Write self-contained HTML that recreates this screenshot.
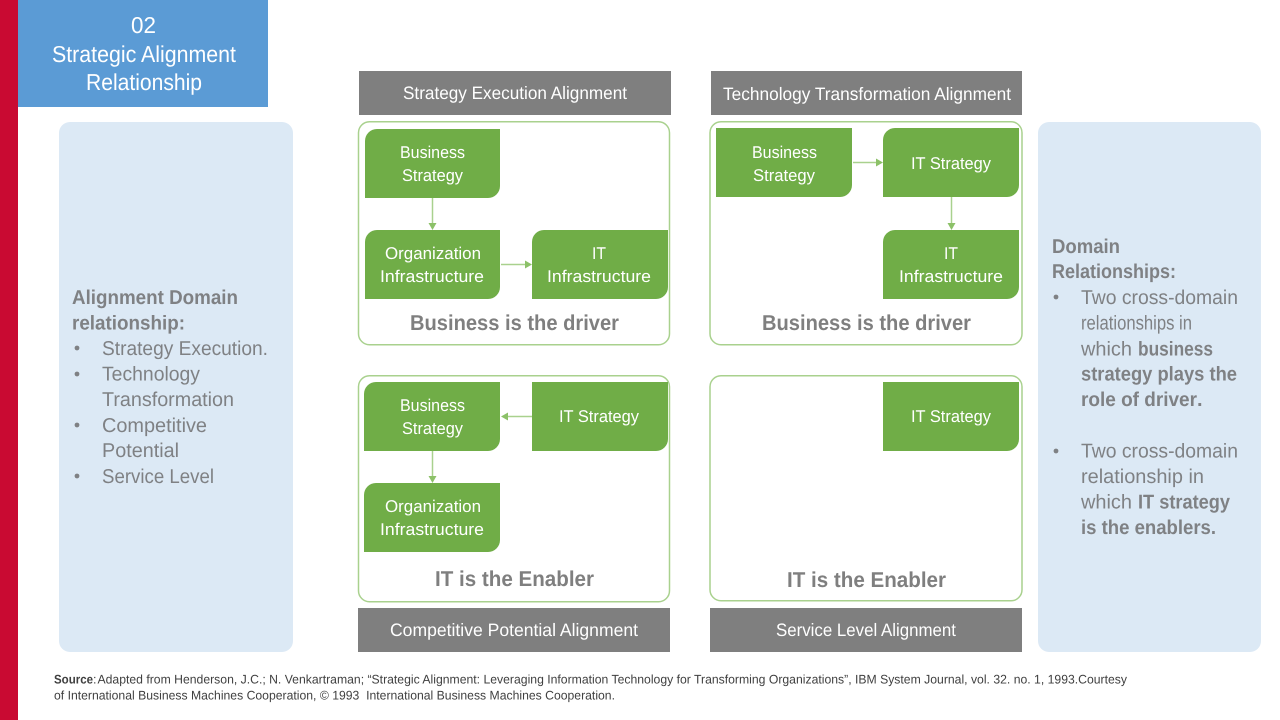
<!DOCTYPE html>
<html><head><meta charset="utf-8"><title>Strategic Alignment Relationship</title>
<style>
html,body{margin:0;padding:0;background:#fff;width:1280px;height:720px;overflow:hidden}
svg{display:block}
text{font-family:"Liberation Sans",sans-serif}
.w{fill:#fff}
.n{fill:#fff;font-size:17px}
.h{fill:#fff;font-size:18px}
.g{fill:#7f8184;font-size:20px}
.b{font-weight:bold}
.d{fill:#7f7f7f;font-size:21.5px;font-weight:bold}
.f{fill:#404040;font-size:12.5px;white-space:pre}
.node{fill:#70ad47}
.panel{fill:#fff;stroke:#a9d18e;stroke-width:1.5}
.side{fill:#dce9f5}
.hd{fill:#7f7f7f}
.c{stroke:#a9d18e;stroke-width:1.5;fill:none}
.a{fill:#8cc168}
.dot{fill:#7f8184}
</style></head><body>
<svg xmlns="http://www.w3.org/2000/svg" width="1280" height="720" viewBox="0 0 1280 720" text-rendering="geometricPrecision">
<rect width="1280" height="720" fill="#fff"/>
<rect x="0" y="0" width="18" height="720" fill="#c90a32"/>
<rect x="18" y="0" width="250" height="107" fill="#5b9bd5"/>
<g class="w" font-size="23">
<text x="131" y="33" textLength="25" lengthAdjust="spacingAndGlyphs" class="w">02</text>
<text x="52" y="62" textLength="184" lengthAdjust="spacingAndGlyphs" class="w">Strategic Alignment</text>
<text x="86" y="90" textLength="116" lengthAdjust="spacingAndGlyphs" class="w">Relationship</text>
</g>

<rect class="side" x="59" y="122" width="234" height="530" rx="11"/>
<rect class="side" x="1038" y="122" width="223" height="530" rx="11"/>

<rect class="hd" x="359" y="71" width="312" height="44"/>
<rect class="hd" x="711" y="71" width="311" height="44"/>
<rect class="hd" x="358" y="608" width="312" height="44"/>
<rect class="hd" x="710" y="608" width="312" height="44"/>
<text class="h" x="403" y="99" textLength="224" lengthAdjust="spacingAndGlyphs">Strategy Execution Alignment</text>
<text class="h" x="723" y="100" textLength="288" lengthAdjust="spacingAndGlyphs">Technology Transformation Alignment</text>
<text class="h" x="390" y="636" textLength="248" lengthAdjust="spacingAndGlyphs">Competitive Potential Alignment</text>
<text class="h" x="776" y="636" textLength="180" lengthAdjust="spacingAndGlyphs">Service Level Alignment</text>

<rect class="panel" x="358.5" y="121.75" width="311" height="223" rx="11"/>
<rect class="panel" x="710" y="121.75" width="312" height="223" rx="11"/>
<rect class="panel" x="358.5" y="375.75" width="311" height="226" rx="11"/>
<rect class="panel" x="710" y="375.75" width="312" height="225" rx="11"/>

<!-- panel 1 -->
<path class="node" d="M377 129H500V186A12 12 0 0 1 488 198H365V141A12 12 0 0 1 377 129Z"/>
<path class="node" d="M377 230H500V287A12 12 0 0 1 488 299H365V242A12 12 0 0 1 377 230Z"/>
<path class="node" d="M544 230H668V287A12 12 0 0 1 656 299H532V242A12 12 0 0 1 544 230Z"/>
<text class="n" x="400" y="158" textLength="65" lengthAdjust="spacingAndGlyphs">Business</text>
<text class="n" x="402" y="181" textLength="61" lengthAdjust="spacingAndGlyphs">Strategy</text>
<text class="n" x="385" y="259" textLength="96" lengthAdjust="spacingAndGlyphs">Organization</text>
<text class="n" x="380" y="282" textLength="104" lengthAdjust="spacingAndGlyphs">Infrastructure</text>
<text class="n" x="592" y="259" textLength="14" lengthAdjust="spacingAndGlyphs">IT</text>
<text class="n" x="547" y="282" textLength="104" lengthAdjust="spacingAndGlyphs">Infrastructure</text>
<path class="c" d="M432.5 198V224"/><path class="a" d="M428.5 223H436.5L432.5 230Z"/>
<path class="c" d="M501 264.5H526"/><path class="a" d="M525 260.5V268.5L532 264.5Z"/>
<text class="d" x="410" y="330" textLength="209" lengthAdjust="spacingAndGlyphs">Business is the driver</text>

<!-- panel 2 -->
<path class="node" d="M716 128H852V185A12 12 0 0 1 840 197H716Z"/>
<path class="node" d="M895 128H1019V185A12 12 0 0 1 1007 197H883V140A12 12 0 0 1 895 128Z"/>
<path class="node" d="M895 230H1019V287A12 12 0 0 1 1007 299H883V242A12 12 0 0 1 895 230Z"/>
<text class="n" x="752" y="158" textLength="65" lengthAdjust="spacingAndGlyphs">Business</text>
<text class="n" x="753" y="181" textLength="62" lengthAdjust="spacingAndGlyphs">Strategy</text>
<text class="n" x="911" y="169" textLength="80" lengthAdjust="spacingAndGlyphs">IT Strategy</text>
<text class="n" x="944" y="259" textLength="14" lengthAdjust="spacingAndGlyphs">IT</text>
<text class="n" x="899" y="282" textLength="104" lengthAdjust="spacingAndGlyphs">Infrastructure</text>
<path class="c" d="M853 162.5H877"/><path class="a" d="M876 158.5V166.5L883 162.5Z"/>
<path class="c" d="M951.5 197V224"/><path class="a" d="M947.5 223H955.5L951.5 230Z"/>
<text class="d" x="762" y="330" textLength="209" lengthAdjust="spacingAndGlyphs">Business is the driver</text>

<!-- panel 3 -->
<path class="node" d="M376 382H500V439A12 12 0 0 1 488 451H364V394A12 12 0 0 1 376 382Z"/>
<path class="node" d="M532 382H668V439A12 12 0 0 1 656 451H532Z"/>
<path class="node" d="M376 483H500V540A12 12 0 0 1 488 552H364V495A12 12 0 0 1 376 483Z"/>
<text class="n" x="400" y="411" textLength="65" lengthAdjust="spacingAndGlyphs">Business</text>
<text class="n" x="402" y="434" textLength="61" lengthAdjust="spacingAndGlyphs">Strategy</text>
<text class="n" x="559" y="422" textLength="80" lengthAdjust="spacingAndGlyphs">IT Strategy</text>
<text class="n" x="385" y="512" textLength="96" lengthAdjust="spacingAndGlyphs">Organization</text>
<text class="n" x="380" y="535" textLength="104" lengthAdjust="spacingAndGlyphs">Infrastructure</text>
<path class="c" d="M532 416.5H507"/><path class="a" d="M508 412.5V420.5L501 416.5Z"/>
<path class="c" d="M432.5 451V477"/><path class="a" d="M428.5 476H436.5L432.5 483Z"/>
<text class="d" x="435" y="586" textLength="159" lengthAdjust="spacingAndGlyphs">IT is the Enabler</text>

<!-- panel 4 -->
<path class="node" d="M883 382H1019V439A12 12 0 0 1 1007 451H883Z"/>
<text class="n" x="911" y="422" textLength="80" lengthAdjust="spacingAndGlyphs">IT Strategy</text>
<text class="d" x="787" y="587" textLength="159" lengthAdjust="spacingAndGlyphs">IT is the Enabler</text>

<!-- left text -->
<text class="g b" x="72" y="304" textLength="166" lengthAdjust="spacingAndGlyphs">Alignment Domain</text>
<text class="g b" x="72" y="329.5" textLength="113" lengthAdjust="spacingAndGlyphs">relationship:</text>
<circle class="dot" cx="77" cy="348" r="2.4"/>
<text class="g" x="102" y="355" textLength="166" lengthAdjust="spacingAndGlyphs">Strategy Execution.</text>
<circle class="dot" cx="77" cy="374" r="2.4"/>
<text class="g" x="102" y="380.5" textLength="98" lengthAdjust="spacingAndGlyphs">Technology</text>
<text class="g" x="102" y="406" textLength="132" lengthAdjust="spacingAndGlyphs">Transformation</text>
<circle class="dot" cx="77" cy="425" r="2.4"/>
<text class="g" x="102" y="432" textLength="105" lengthAdjust="spacingAndGlyphs">Competitive</text>
<text class="g" x="102" y="457" textLength="77" lengthAdjust="spacingAndGlyphs">Potential</text>
<circle class="dot" cx="77" cy="476" r="2.4"/>
<text class="g" x="102" y="483" textLength="112" lengthAdjust="spacingAndGlyphs">Service Level</text>

<!-- right text -->
<text class="g b" x="1052" y="253" textLength="68" lengthAdjust="spacingAndGlyphs">Domain</text>
<text class="g b" x="1052" y="278" textLength="124" lengthAdjust="spacingAndGlyphs">Relationships:</text>
<circle class="dot" cx="1056" cy="297" r="2.4"/>
<text class="g" x="1081" y="304" textLength="157" lengthAdjust="spacingAndGlyphs">Two cross-domain</text>
<text class="g" x="1081" y="329.5" textLength="111" lengthAdjust="spacingAndGlyphs">relationships in</text>
<text class="g" x="1081" y="355.5" textLength="51" lengthAdjust="spacingAndGlyphs">which</text>
<text class="g b" x="1138" y="355.5" textLength="75" lengthAdjust="spacingAndGlyphs">business</text>
<text class="g b" x="1081" y="380.5" textLength="156" lengthAdjust="spacingAndGlyphs">strategy plays the</text>
<text class="g b" x="1081" y="406" textLength="116" lengthAdjust="spacingAndGlyphs">role of driver</text>
<text class="g b" x="1197" y="406">.</text>
<circle class="dot" cx="1056" cy="451" r="2.4"/>
<text class="g" x="1081" y="457.5" textLength="157" lengthAdjust="spacingAndGlyphs">Two cross-domain</text>
<text class="g" x="1081" y="483" textLength="123" lengthAdjust="spacingAndGlyphs">relationship in</text>
<text class="g" x="1081" y="508.5" textLength="51" lengthAdjust="spacingAndGlyphs">which</text>
<text class="g b" x="1138" y="508.5" textLength="92" lengthAdjust="spacingAndGlyphs">IT strategy</text>
<text class="g b" x="1081" y="534" textLength="135" lengthAdjust="spacingAndGlyphs">is the enablers.</text>

<!-- footer -->
<text class="f b" x="54" y="683.5" textLength="39" lengthAdjust="spacingAndGlyphs">Source</text>
<text class="f" x="93" y="683.5">:</text>
<text class="f" x="97.5" y="683.5" textLength="1029.5" lengthAdjust="spacingAndGlyphs">Adapted from Henderson, J.C.; N. Venkartraman; “Strategic Alignment: Leveraging Information Technology for Transforming Organizations”, IBM System Journal, vol. 32. no. 1, 1993.Courtesy</text>
<text class="f" x="54" y="699.5" textLength="561" lengthAdjust="spacingAndGlyphs">of International Business Machines Cooperation, © 1993  International Business Machines Cooperation.</text>
</svg>
</body></html>
